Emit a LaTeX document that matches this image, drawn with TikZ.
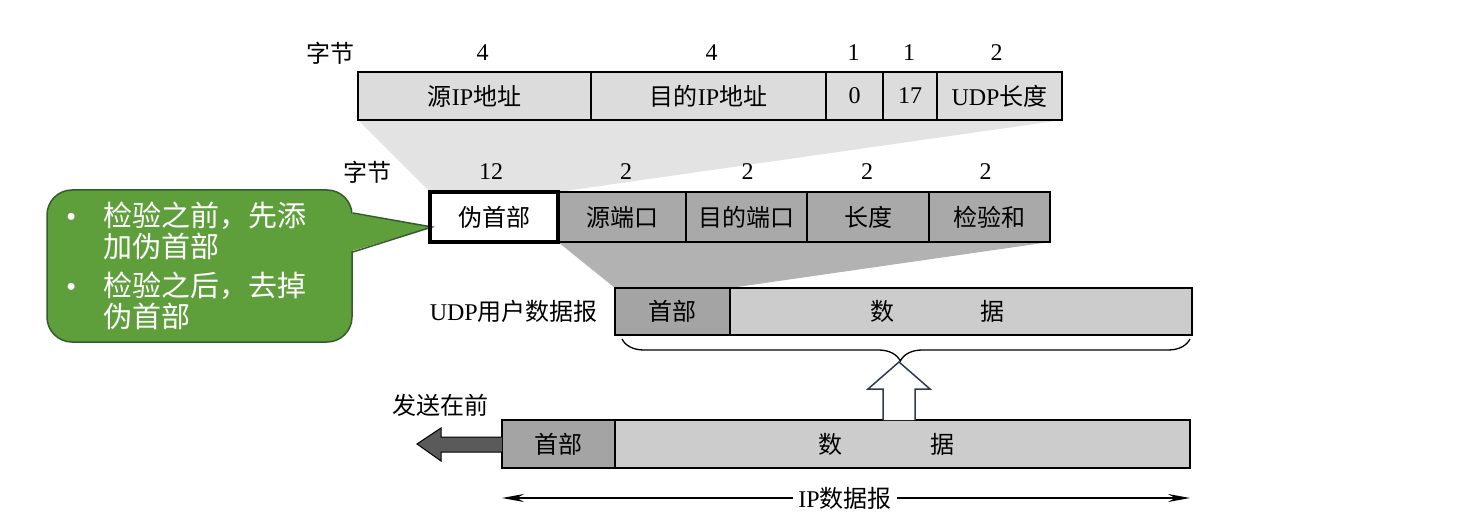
\documentclass[tikz,border=0pt]{standalone}
\usepackage{fontspec}
\setmainfont{Liberation Serif}
\newfontfamily\zh{Noto Sans CJK SC}
\newcommand{\zhs}[1]{{\zh #1}}
\newcommand{\lblfont}{\fontsize{24}{28}\selectfont}
\usetikzlibrary{positioning,backgrounds,calc,decorations.pathreplacing,arrows.meta}
\definecolor{fieldlight}{HTML}{DCDCDC}
\definecolor{fielddark}{HTML}{A9A9A9}
\definecolor{hdrgray}{HTML}{A4A4A4}
\definecolor{datagray}{HTML}{CCCCCC}
\definecolor{shadelight}{HTML}{E3E3E3}
\definecolor{shadedark}{HTML}{B2B2B2}
\definecolor{calloutgreen}{HTML}{5E9F3C}
\definecolor{calloutedge}{HTML}{345B2C}
\definecolor{arrowedge}{HTML}{2E3B4E}
\definecolor{sendgray}{HTML}{5A5A5A}
\tikzset{
  fld/.style={draw=black, line width=1.2pt, inner sep=0pt, outer sep=0pt, font=\lblfont},
  toprow/.style={fld, fill=fieldlight, minimum height=48pt},
  midrow/.style={fld, fill=fielddark, minimum height=50pt},
  lbl/.style={font=\lblfont, inner sep=0pt},
  dim/.style={line width=1.3pt, -{Stealth[length=22pt,width=8pt]}},
}
\begin{document}
\begin{tikzpicture}[x=1pt, y=-1pt]
	\useasboundingbox (0,0) rectangle (1470,513);

	% 伪首部 (12 字节)
	\node[toprow, minimum width=233pt, anchor=west] (srcip) at (358,96) {\zhs{源}IP\zhs{地址}};
	\node[toprow, minimum width=235pt, right=0pt of srcip] (dstip) {\zhs{目的}IP\zhs{地址}};
	\node[toprow, minimum width=57pt, right=0pt of dstip] (zero) {0};
	\node[toprow, minimum width=54pt, right=0pt of zero] (proto) {17};
	\node[toprow, minimum width=125pt, right=0pt of proto] (udplen) {UDP\zhs{长度}};
	\foreach \f/\n/\dx in {srcip/4/8, dstip/4/3, zero/1/-1, proto/1/-1, udplen/2/-3}
		\node[lbl, above=11pt of \f, xshift=\dx pt] (n\f) {\n};
	\node[lbl] (unittop) at (nsrcip.center -| 330,0) {\zhs{字节}};

	% UDP 首部 (8 字节)
	\node[midrow, fill=white, draw=none, minimum width=128pt, anchor=west] (pseudo) at (430,217) {\zhs{伪首部}};
	\node[midrow, minimum width=128pt, right=0pt of pseudo] (sport) {\zhs{源端口}};
	\node[midrow, minimum width=121pt, right=0pt of sport] (dport) {\zhs{目的端口}};
	\node[midrow, minimum width=122pt, right=0pt of dport] (ulen) {\zhs{长度}};
	\node[midrow, minimum width=121pt, right=0pt of ulen] (csum) {\zhs{检验和}};
	\foreach \f/\n/\dx in {pseudo/12/-3, sport/2/4, dport/2/1, ulen/2/-1, csum/2/-4}
		\node[lbl, above=12pt of \f, xshift=\dx pt] (n\f) {\n};
	\node[lbl] (unitmid) at (npseudo.center -| 367,0) {\zhs{字节}};

	% UDP 用户数据报
	\node[fld, fill=hdrgray, minimum width=115pt, minimum height=47pt, anchor=west] (udphdr) at (615,311.5) {\zhs{首部}};
	\node[fld, fill=datagray, minimum width=462pt, minimum height=47pt, right=0pt of udphdr] (udpdata) {\zhs{数}\hspace{86pt}\zhs{据}\hspace{48pt}\mbox{}};
	\node[lbl, left=17pt of udphdr] (udplabel) {UDP\zhs{用户数据报}};

	% IP 数据报
	\node[fld, fill=hdrgray, minimum width=113pt, minimum height=48pt, anchor=west] (iphdr) at (502,444) {\zhs{首部}};
	\node[fld, fill=datagray, minimum width=575pt, minimum height=48pt, right=0pt of iphdr] (ipdata) {\zhs{数}\hspace{88pt}\zhs{据}\hspace{33pt}\mbox{}};
	\node[lbl] (sendfirst) at (440,405) {\zhs{发送在前}};

	% 展开的阴影
	\begin{pgfonlayer}{background}
		\fill[white] (0,0) rectangle (1470,513);
		\fill[shadelight] (srcip.south west) -- (udplen.south east) -- (pseudo.north east) -- (pseudo.north west) -- cycle;
		\fill[shadedark] (sport.south west) -- (csum.south east) -- (udphdr.north east) -- (udphdr.north west) -- cycle;
	\end{pgfonlayer}

	% 大括号与空心箭头
	\coordinate (braceL) at ($(udphdr.south west)+(7,4)$);
	\coordinate (braceR) at ($(udpdata.south east)+(-2,4)$);
	\draw[line width=1.3pt, decorate, decoration={brace, mirror, amplitude=22pt, aspect=0.49}] (braceL) -- (braceR);
	\coordinate (bracetip) at (899,362);
	\coordinate (upbase) at (ipdata.north -| bracetip);
	\draw[arrowedge, line width=1.5pt, fill=white] ($(upbase)+(-16,0)$) -- ($(upbase)+(-16,-31)$) -- ($(upbase)+(-31,-31)$)
		-- (bracetip) -- ($(upbase)+(31,-31)$) -- ($(upbase)+(16,-31)$) -- ($(upbase)+(16,0)$);

	% 发送方向
	\draw[black, line width=1pt, fill=sendgray] ($(iphdr.west)+(0,-7)$) -- ($(iphdr.west)+(-61,-7)$) -- ($(iphdr.west)+(-61,-16)$)
		-- ($(iphdr.west)+(-85,0)$) -- ($(iphdr.west)+(-61,17)$) -- ($(iphdr.west)+(-61,8)$) -- ($(iphdr.west)+(0,8)$);

	% IP 数据报长度
	\node[lbl, inner xsep=5pt] (iplabel) at (845,498) {IP\zhs{数据报}};
	\coordinate (dimL) at (iphdr.west |- iplabel);
	\coordinate (dimR) at (ipdata.east |- iplabel);
	\draw[dim] (iplabel) -- (dimL);
	\draw[dim] (iplabel) -- (dimR);

	% 说明框
	\node[draw=calloutedge, line width=1.5pt, fill=calloutgreen, rounded corners=25pt, minimum width=305pt, minimum height=152pt,
		text=white, text width=267pt, align=left, inner sep=0pt, font=\fontsize{29}{31}\selectfont] (callout) at (199.5,266)
		{\makebox[37pt][l]{\textbullet}\zhs{检验之前，先添}\\
		 \hspace*{37pt}\zhs{加伪首部}\\[8pt]
		 \makebox[37pt][l]{\textbullet}\zhs{检验之后，去掉}\\
		 \hspace*{37pt}\zhs{伪首部}};
	\coordinate (cpTop) at ($(callout.east)+(0,-53)$);
	\coordinate (cpBot) at ($(callout.east)+(0,-14)$);
	\coordinate (cpTip) at ($(pseudo.west)+(2,10)$);
	\fill[calloutgreen] ($(cpTop)+(-4,0)$) -- (cpTip) -- ($(cpBot)+(-4,0)$) -- cycle;
	\draw[calloutedge, line width=1.5pt] (cpTop) -- (cpTip) -- (cpBot);

	% 伪首部粗框
	\draw[line width=3.5pt] (pseudo.north west) rectangle (pseudo.south east);
\end{tikzpicture}
\end{document}
